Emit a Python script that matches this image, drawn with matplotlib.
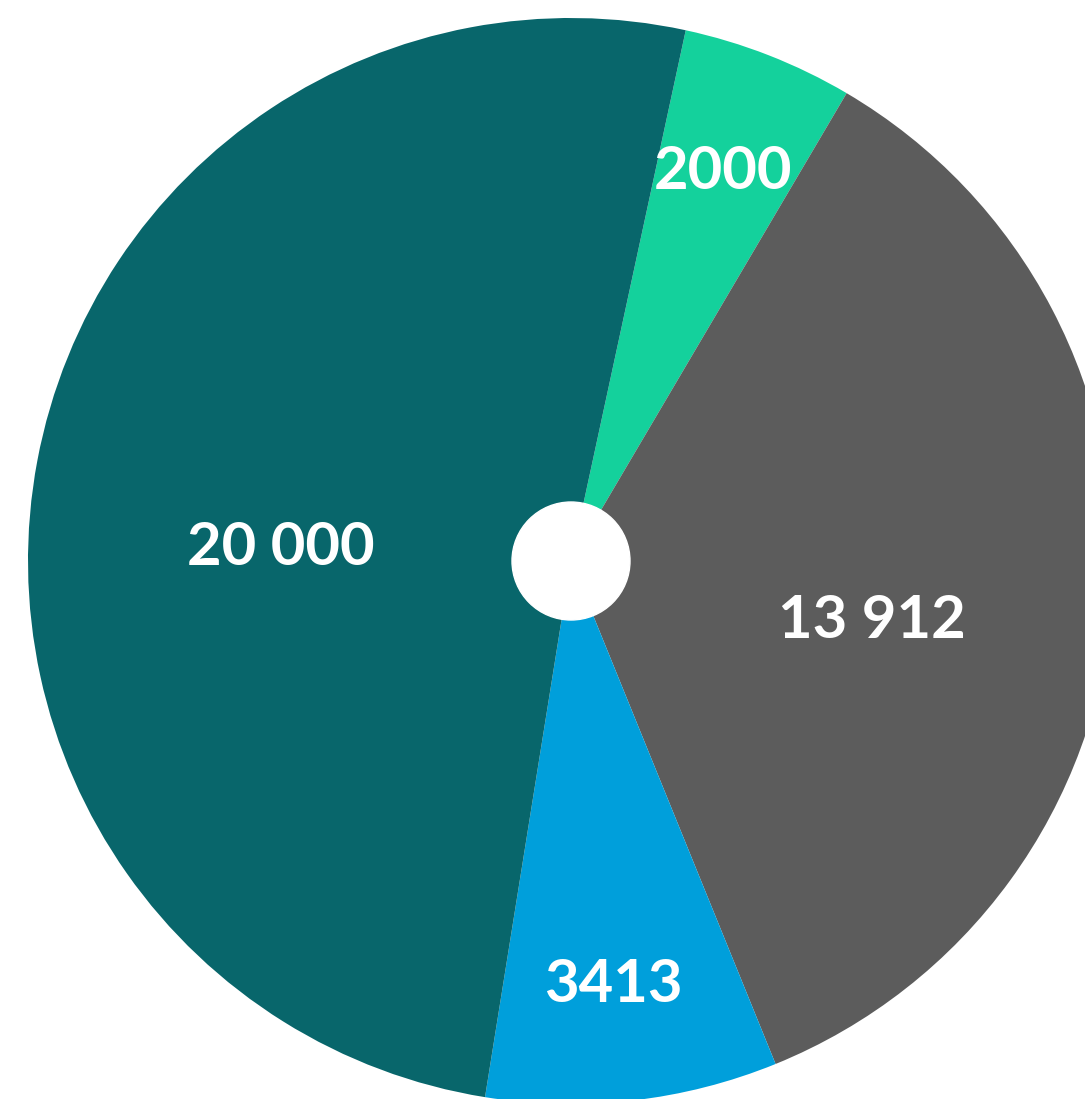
import numpy as np
import matplotlib.pyplot as plt
from matplotlib.patches import Circle

# data
labels = ['2000', '13 912', '3413', '20 000']
values = [2000, 13912, 3413, 20000]
colors = ['#14d19c', '#5c5c5c', '#009fdb', '#08666b']

# label placement: (radius fraction, angle shift in degrees)
label_pos = [(0.77, 0.0), (0.565, -7.0), (0.785, -0.8), (0.535, 8.0)]

W, H = 1085, 1099
cx, cy, R = 571, H - 561, 543
hole = 59

fig = plt.figure(figsize=(W / 100, H / 100), dpi=100)
ax = fig.add_axes([0, 0, 1, 1])

wedges, _ = ax.pie(values, colors=colors, startangle=77.8, counterclock=False,
                   center=(cx, cy), radius=R, frame=True,
                   wedgeprops=dict(linewidth=0))
ax.set_xlim(0, W)
ax.set_ylim(0, H)
ax.set_aspect('equal')
ax.axis('off')
ax.add_patch(Circle((cx, cy), hole, color='white', zorder=5))

for w, lab, (rf, shift) in zip(wedges, labels, label_pos):
    mid = np.deg2rad((w.theta1 + w.theta2) / 2 + shift)
    x = cx + rf * R * np.cos(mid)
    y = cy + rf * R * np.sin(mid)
    ax.text(x, y, lab, color='white', fontsize=43, fontweight='bold',
            family='Lato', ha='center', va='center', zorder=6)

fig.savefig('out.png', dpi=100)
